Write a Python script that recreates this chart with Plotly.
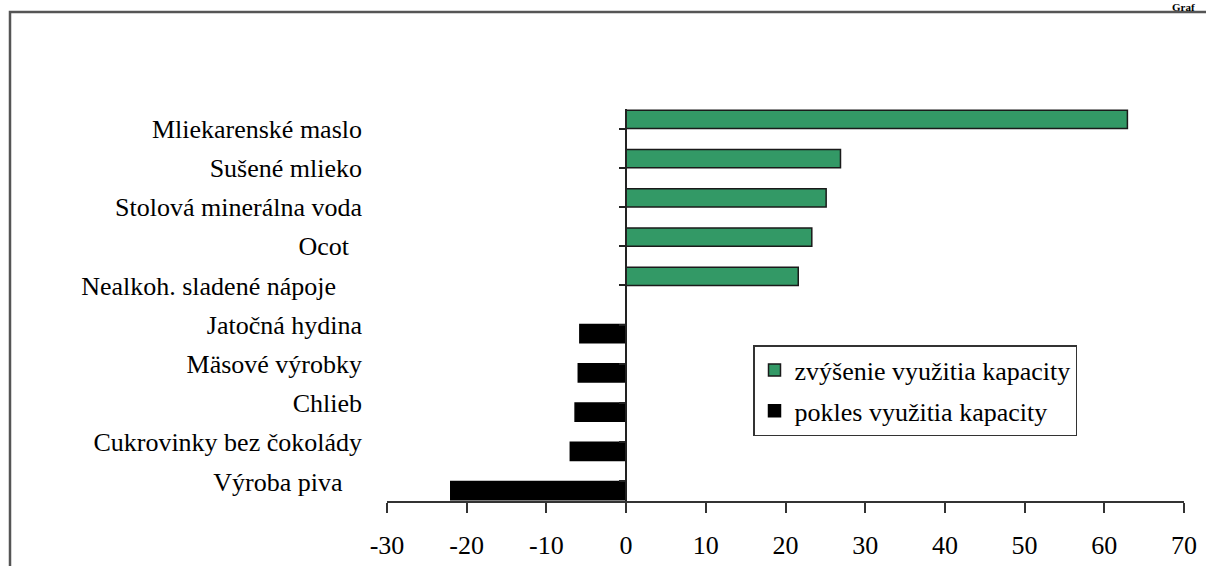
import plotly.graph_objects as go

categories = [
    "Mliekarenské maslo",
    "Sušené mlieko",
    "Stolová minerálna voda",
    "Ocot\u00a0\u00a0",
    "Nealkoh. sladené nápoje\u00a0\u00a0\u00a0\u00a0",
    "Jatočná hydina",
    "Mäsové výrobky",
    "Chlieb",
    "Cukrovinky bez čokolády",
    "Výroba piva\u00a0\u00a0\u00a0",
]
increase_values = [62.9, 26.9, 25.1, 23.3, 21.6, None, None, None, None, None]
decrease_values = [None, None, None, None, None, -5.8, -6.0, -6.4, -7.0, -22.0]
series_names = ["zvýšenie využitia kapacity", "pokles využitia kapacity"]
x_ticks = list(range(-30, 71, 10))

FONT = "Liberation Serif"
FS = 26
W, H = 1206, 566
ML, MR, MT, MB = 387, 22, 109, 65
PW, PH = W - ML - MR, H - MT - MB

def px_x(p):
    return (p - ML) / PW

def px_y(p):
    return (H - MB - p) / PH

fig = go.Figure()
fig.add_trace(go.Bar(
    y=categories, x=increase_values, orientation="h", name=series_names[0],
    marker=dict(color="#339966", line=dict(color="#1a1a1a", width=1.5)),
    legendgroup="a",
))
fig.add_trace(go.Bar(
    y=categories, x=decrease_values, orientation="h", name=series_names[1],
    marker=dict(color="#000000", line=dict(color="#000000", width=1.5)),
    legendgroup="b",
))
# invisible trace carrying the zero-crossing category axis
fig.add_trace(go.Scatter(
    x=[0], y=[0], yaxis="y2", mode="markers", marker=dict(opacity=0),
    showlegend=False, hoverinfo="skip",
))

xmin, xmax = x_ticks[0], x_ticks[-1]
zero_pos = (0 - xmin) / (xmax - xmin)
n = len(categories)

fig.update_layout(
    width=W, height=H,
    margin=dict(l=ML, r=MR, t=MT, b=MB, autoexpand=False),
    paper_bgcolor="white", plot_bgcolor="white",
    barmode="group", bargap=0.07, bargroupgap=0,
    font=dict(family=FONT, size=FS, color="#000000"),
    xaxis=dict(
        range=[xmin, xmax], tickvals=x_ticks, ticktext=[str(v) for v in x_ticks],
        showgrid=False, zeroline=False, showline=True, linecolor="#333333", linewidth=1.5,
        ticks="outside", ticklen=10, tickwidth=1.5, tickcolor="#333333",
        ticklabelstandoff=10, automargin=False,
        tickfont=dict(family=FONT, size=FS, color="#000000"),
    ),
    yaxis=dict(
        type="category", categoryarray=categories, range=[n - 0.5, -0.5],
        showgrid=False, zeroline=False, showline=False, ticks="",
        ticklabelstandoff=24, automargin=False,
        tickfont=dict(family=FONT, size=FS, color="#000000"),
    ),
    yaxis2=dict(
        overlaying="y", anchor="free", position=zero_pos, side="left",
        range=[n - 0.5, -0.5], tickvals=list(range(n)), showticklabels=False,
        showgrid=False, zeroline=False, showline=True, linecolor="#222222", linewidth=1.5,
        ticks="outside", ticklen=6, tickwidth=1.5, tickcolor="#222222", automargin=False,
    ),
    legend=dict(
        x=px_x(753), y=px_y(345), xanchor="left", yanchor="top",
        bgcolor="white", bordercolor="#333333", borderwidth=1.5,
        font=dict(family=FONT, size=FS, color="#000000"),
        tracegroupgap=4, itemwidth=30,
    ),
    shapes=[dict(
        type="rect", xref="paper", yref="paper",
        x0=px_x(10), y0=px_y(H + 20), x1=px_x(W + 20), y1=px_y(12),
        line=dict(color="#555555", width=2.5), fillcolor="rgba(0,0,0,0)", layer="below",
    )],
    annotations=[dict(
        text="<b>Graf</b>", xref="paper", yref="paper",
        x=px_x(1196), y=px_y(7), xanchor="right", yanchor="middle",
        showarrow=False, borderpad=0,
        font=dict(family=FONT, size=11, color="#000000"),
    )],
    showlegend=True,
)

fig.write_html(
    "out.html",
    config={"displayModeBar": False},
    post_script="document.body.style.margin='0';document.body.style.overflow='hidden';",
)
